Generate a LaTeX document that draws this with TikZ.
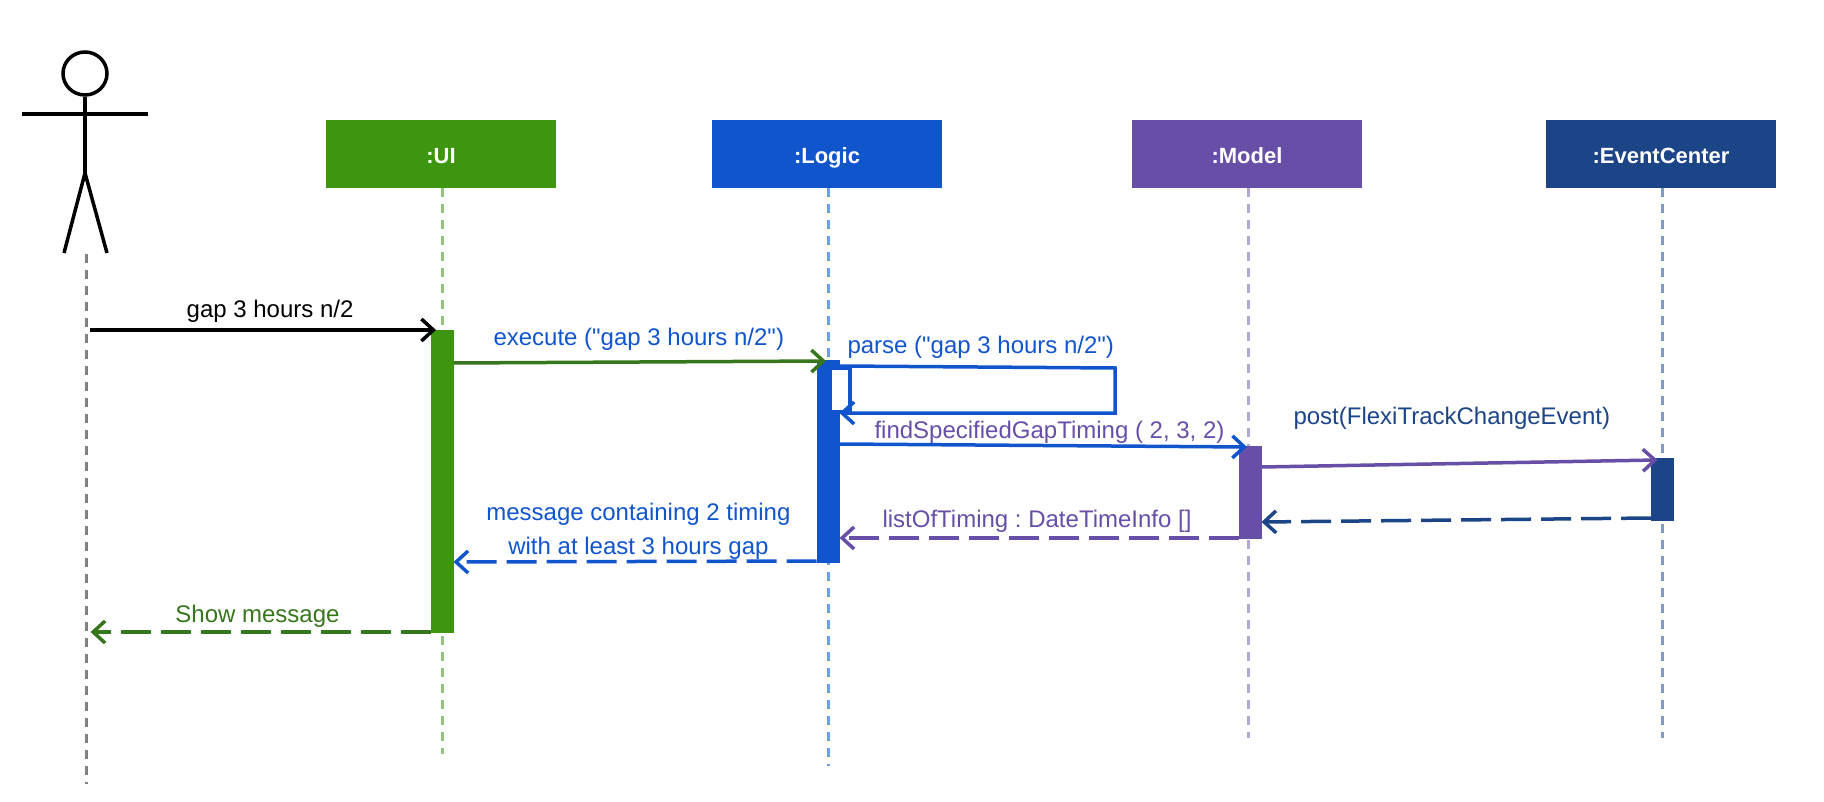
\documentclass[tikz,border=0pt]{standalone}
\usepackage{fontspec}
\setmainfont{Liberation Sans}
\newfontfamily\msgfont{Liberation Sans}
\usetikzlibrary{positioning, arrows.meta, shapes.geometric}
\definecolor{uigreen}{HTML}{3D9510}
\definecolor{darkgreen}{HTML}{38761D}
\definecolor{logicblue}{HTML}{1155CC}
\definecolor{modelpurple}{HTML}{674EA7}
\definecolor{centernavy}{HTML}{1C4587}
\definecolor{uilight}{HTML}{93C47D}
\definecolor{logiclight}{HTML}{6D9EEB}
\definecolor{modellight}{HTML}{B4A7D6}
\definecolor{centerlight}{HTML}{7F9CC4}

\begin{document}
\begin{tikzpicture}[
    x=1pt, y=1pt,
    box/.style={rectangle, minimum width=230pt, minimum height=68pt, inner sep=0pt, outer sep=0pt, text=white, text height=20pt, text depth=0pt, font=\fontsize{22}{26}\selectfont\bfseries},
    bar/.style={rectangle, minimum width=23pt, inner sep=0pt, outer sep=0pt},
    msg/.style={inner sep=0pt, outer sep=0pt, align=center, font=\msgfont\frenchspacing\fontsize{24}{34}\selectfont},
    lifeline/.style={line width=3pt, dash pattern=on 9pt off 7pt},
    arrow/.style={-{Straight Barb[length=12pt,width=22pt,line width=3.5pt]}, line width=3.5pt},
    reply/.style={arrow, dash pattern=on 30pt off 10pt}
]
\useasboundingbox (0,0) rectangle (1824,-802);

% Actor
\node[draw, ellipse, line width=3.5pt, minimum width=44pt, minimum height=43pt, inner sep=0pt] (head) at (85,-73.5) {};
\coordinate (hip) at (85,-173);
\coordinate (armL) at (22,-114);
\coordinate (armR) at (148,-114);
\coordinate (footL) at (64,-253);
\coordinate (footR) at (107,-253);
\draw[line width=3.5pt] (head.south) -- (hip);
\draw[line width=4.5pt] (armL) -- (armR);
\draw[line width=3.5pt] (footL) -- (hip) -- (footR);

% Objects
\node[box, fill=uigreen] (UI) at (441,-154) {:UI};
\node[box, fill=logicblue, right=156pt of UI] (Logic) {:Logic};
\node[box, fill=modelpurple, right=190pt of Logic] (Model) {:Model};
\node[box, fill=centernavy, right=184pt of Model] (Center) {:EventCenter};

% Lifelines
\coordinate (actorTop) at (86,-254);
\coordinate (actorEnd) at (86,-784);
\coordinate[below=566pt of UI.south, xshift=1pt] (UIend);
\coordinate[below=578pt of Logic.south, xshift=1pt] (LogicEnd);
\coordinate[below=550pt of Model.south, xshift=1pt] (ModelEnd);
\coordinate[below=550pt of Center.south, xshift=1pt] (CenterEnd);
\draw[lifeline, gray] (actorTop) -- (actorEnd);
\draw[lifeline, uilight] ([xshift=1pt]UI.south) -- (UIend);
\draw[lifeline, logiclight] ([xshift=1pt]Logic.south) -- (LogicEnd);
\draw[lifeline, modellight] ([xshift=1pt]Model.south) -- (ModelEnd);
\draw[lifeline, centerlight] ([xshift=1pt]Center.south) -- (CenterEnd);

% Activation bars
\node[bar, fill=uigreen, minimum height=303pt, below=142pt of UI, xshift=1pt] (barUI) {};
\node[bar, fill=logicblue, minimum height=203pt, below=172pt of Logic, xshift=1pt] (barLogic) {};
\node[bar, fill=modelpurple, minimum height=93pt, below=258pt of Model, xshift=3pt] (barModel) {};
\node[bar, fill=centernavy, minimum height=63pt, below=270pt of Center, xshift=1.5pt] (barCenter) {};
\node[draw=logicblue, fill=white, line width=4pt, minimum width=20pt, minimum height=44pt, inner sep=0pt, right=-11.5pt of barLogic.north east, yshift=-30pt] (barParse) {};

% Labels
\node[msg, left=77pt of barUI.north west, yshift=19pt] (gapLabel) {gap 3 hours n/2};
\node[msg, text=logicblue, right=40pt of barUI.north east, yshift=-9pt] (executeLabel) {execute ("gap 3 hours n/2")};
\node[msg, text=logicblue, right=8pt of barLogic.north east, yshift=13pt] (parseLabel) {parse ("gap 3 hours n/2")};
\node[msg, text=modelpurple, right=35pt of barLogic.north east, yshift=-72pt] (findLabel) {findSpecifiedGapTiming ( 2, 3, 2)};
\node[msg, text=centernavy, right=32pt of barModel.north east, yshift=28pt] (postLabel) {post(FlexiTrackChangeEvent)};
\node[msg, text=modelpurple, left=47pt of barModel.south west, yshift=18pt] (listLabel) {listOfTiming : DateTimeInfo []};
\node[msg, text=logicblue, left=26pt of barLogic.south west, yshift=32pt] (messageLabel) {message containing 2 timing\\with at least 3 hours gap};
\node[msg, text=darkgreen, left=91pt of barUI.south west, yshift=17pt] (showLabel) {Show message};

% Edges
\coordinate[left=341pt of barUI.north west] (gapFrom);
\coordinate[left=340pt of barUI.south west, yshift=1pt] (showTo);
\coordinate (parseA) at (1115,-368);
\coordinate (parseB) at (1115,-413);

\draw[arrow, line width=4pt] (gapFrom) -- ([xshift=-6pt]barUI.north);
\draw[arrow, darkgreen] ([yshift=-33pt]barUI.north east) -- ([xshift=-2pt, yshift=-1pt]barLogic.north);
\draw[arrow, logicblue] (barParse.north) -- (parseA) -- (parseB) -- (barLogic.east |- parseB);
\draw[arrow, logicblue] ([yshift=-84pt]barLogic.north east) -- ([yshift=-1pt]barModel.north west -| Model.south);
\draw[arrow, modelpurple] ([yshift=-21pt]barModel.north east) -- ([xshift=-5pt, yshift=-2pt]barCenter.north);
\draw[reply, centernavy] ([yshift=3pt]barCenter.south west) -- ([yshift=-76pt]barModel.north east);
\draw[reply, modelpurple] ([yshift=1pt]barModel.south west) -- ([yshift=1pt]barLogic.east |- barModel.south);
\draw[reply, logicblue] ([yshift=2pt]barLogic.south west) -- ([yshift=1pt]barUI.east |- barLogic.south);
\draw[reply, darkgreen] ([yshift=1pt]barUI.south west) -- (showTo);
\end{tikzpicture}
\end{document}
